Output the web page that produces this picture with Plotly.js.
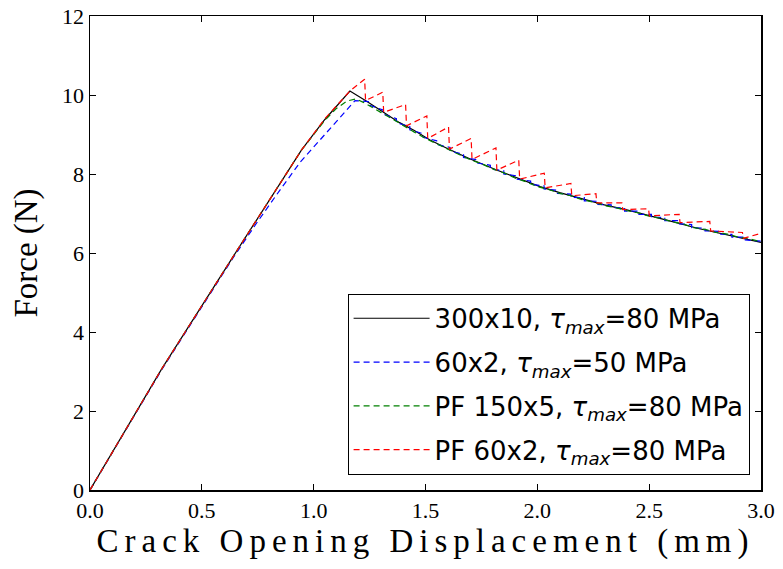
<!DOCTYPE html>
<html>
<head>
<meta charset="utf-8">
<script src="https://cdn.plot.ly/plotly-3.0.1.min.js"></script>
<style>
  html, body { margin: 0; padding: 0; background: #fff; }
  #chart { width: 783px; height: 569px; }
</style>
</head>
<body>
<div id="chart"></div>
<script>
// ---- Data ----
const seriesNames = [
  "300x10, <i>τ</i><sub><i>max</i></sub>=80 MPa",
  "60x2, <i>τ</i><sub><i>max</i></sub>=50 MPa",
  "PF 150x5, <i>τ</i><sub><i>max</i></sub>=80 MPa",
  "PF 60x2, <i>τ</i><sub><i>max</i></sub>=80 MPa"
];

const blackX = [0, 0.32, 0.64, 0.946, 1.05, 1.162, 1.235, 1.30, 1.384, 1.45, 1.52, 1.60, 1.70, 1.818, 1.90, 2.012, 2.10, 2.20, 2.30, 2.40, 2.50, 2.60, 2.72, 2.85, 3.0];
const blackY = [0, 3.06, 5.91, 8.61, 9.38, 10.10, 9.85, 9.60, 9.30, 9.10, 8.86, 8.64, 8.38, 8.10, 7.92, 7.68, 7.53, 7.37, 7.22, 7.09, 6.95, 6.80, 6.62, 6.45, 6.27];

const blueX = [0, 0.32, 0.64, 0.75, 0.85, 0.94, 1.05, 1.12, 1.185, 1.25, 1.25, 1.31, 1.31, 1.37, 1.37, 1.43, 1.43, 1.49, 1.49, 1.55, 1.55, 1.61, 1.61, 1.67, 1.67, 1.73, 1.73, 1.79, 1.79, 1.85, 1.85, 1.91, 1.91, 1.97, 1.97, 2.03, 2.03, 2.09, 2.09, 2.15, 2.15, 2.21, 2.21, 2.27, 2.27, 2.33, 2.33, 2.39, 2.39, 2.45, 2.45, 2.51, 2.51, 2.57, 2.57, 2.63, 2.63, 2.69, 2.69, 2.75, 2.75, 2.81, 2.81, 2.87, 2.87, 2.93, 2.93, 3.0];
const blueY = [0, 3.04, 5.88, 6.80, 7.60, 8.30, 9.00, 9.45, 9.86, 9.83, 9.74, 9.62, 9.52, 9.40, 9.30, 9.20, 9.12, 9.02, 8.93, 8.84, 8.75, 8.67, 8.58, 8.50, 8.42, 8.36, 8.28, 8.22, 8.13, 8.08, 8.00, 7.95, 7.87, 7.82, 7.74, 7.70, 7.62, 7.59, 7.51, 7.49, 7.41, 7.40, 7.32, 7.31, 7.23, 7.22, 7.15, 7.14, 7.06, 7.06, 6.98, 6.98, 6.90, 6.90, 6.82, 6.82, 6.74, 6.72, 6.64, 6.63, 6.56, 6.55, 6.48, 6.47, 6.40, 6.40, 6.33, 6.30];

const greenX = [0, 0.32, 0.64, 0.946, 1.05, 1.10, 1.15, 1.19, 1.22, 1.26, 1.30, 1.35, 1.40, 1.45, 1.50, 1.55, 1.60, 1.65, 1.70, 1.75, 1.80, 1.85, 1.90, 1.95, 2.00, 2.05, 2.10, 2.15, 2.20, 2.25, 2.30, 2.35, 2.40, 2.45, 2.50, 2.55, 2.60, 2.65, 2.70, 2.75, 2.80, 2.85, 2.90, 2.95, 3.0];
const greenY = [0, 3.06, 5.91, 8.61, 9.36, 9.65, 9.85, 9.90, 9.82, 9.70, 9.56, 9.40, 9.22, 9.06, 8.90, 8.77, 8.62, 8.50, 8.36, 8.26, 8.13, 8.03, 7.90, 7.80, 7.68, 7.61, 7.51, 7.45, 7.35, 7.29, 7.20, 7.15, 7.07, 7.02, 6.93, 6.88, 6.79, 6.74, 6.64, 6.60, 6.52, 6.48, 6.40, 6.36, 6.28];

const redX = [0, 0.32, 0.64, 0.946, 1.05, 1.162, 1.228, 1.232, 1.309, 1.313, 1.411, 1.415, 1.506, 1.510, 1.603, 1.607, 1.704, 1.708, 1.815, 1.819, 1.917, 1.921, 2.031, 2.035, 2.150, 2.154, 2.262, 2.266, 2.378, 2.382, 2.497, 2.501, 2.634, 2.638, 2.771, 2.775, 2.917, 2.921, 3.0];
const redY = [0, 3.06, 5.91, 8.61, 9.40, 10.10, 10.40, 9.86, 10.07, 9.56, 9.76, 9.22, 9.47, 8.90, 9.19, 8.63, 8.90, 8.37, 8.66, 8.10, 8.35, 7.87, 8.02, 7.65, 7.76, 7.45, 7.50, 7.27, 7.27, 7.10, 7.12, 6.94, 6.98, 6.77, 6.80, 6.56, 6.52, 6.37, 6.50];

const xTicks = [0, 0.5, 1.0, 1.5, 2.0, 2.5, 3.0];
const yTicks = [0, 2, 4, 6, 8, 10, 12];

// ---- Traces ----
const traces = [
  {x: blackX, y: blackY, name: seriesNames[0], mode: 'lines', legendgroup: 'a',
   line: {color: '#000000', width: 1.2, dash: 'solid'}},
  {x: blueX, y: blueY, name: seriesNames[1], mode: 'lines', legendgroup: 'b',
   line: {color: '#0000ff', width: 1.2, dash: '6px,4px'}},
  {x: greenX, y: greenY, name: seriesNames[2], mode: 'lines', legendgroup: 'c',
   line: {color: '#008000', width: 1.2, dash: '6px,4px'}},
  {x: redX, y: redY, name: seriesNames[3], mode: 'lines', legendgroup: 'd',
   line: {color: '#ff0000', width: 1.2, dash: '6px,4px'}}
];

const serif = "Liberation Serif";

const layout = {
  width: 783, height: 569,
  paper_bgcolor: '#ffffff', plot_bgcolor: '#ffffff',
  margin: {l: 90, r: 22, t: 16, b: 79, pad: 0},
  showlegend: true,
  legend: {
    x: 0.983, y: 0.032, xanchor: 'right', yanchor: 'bottom',
    bgcolor: '#ffffff', bordercolor: '#000000', borderwidth: 1,
    font: {family: "DejaVu Sans", size: 26, color: '#000'},
    tracegroupgap: 7, itemwidth: 76
  },
  xaxis: {
    range: [0, 3], tickvals: xTicks, ticktext: xTicks.map(v => v.toFixed(1)),
    ticks: 'inside', ticklen: 6, tickcolor: '#000', tickwidth: 1,
    showline: true, mirror: 'ticks', linecolor: '#000', linewidth: 1.5,
    showgrid: false, zeroline: false,
    tickfont: {family: serif, size: 22, color: '#000'},
    title: {text: '<span style="letter-spacing:6px">Crack Opening Displacement (mm)</span>',
            font: {family: serif, size: 33, color: '#000'}, standoff: 6}
  },
  yaxis: {
    range: [0, 12], tickvals: yTicks, ticktext: yTicks.map(v => String(v)),
    ticks: 'inside', ticklen: 6, tickcolor: '#000', tickwidth: 1,
    showline: true, mirror: 'ticks', linecolor: '#000', linewidth: 1.5,
    showgrid: false, zeroline: false,
    tickfont: {family: serif, size: 22, color: '#000'},
    title: {text: 'Force (N)', font: {family: serif, size: 33, color: '#000'}, standoff: 14}
  }
};

Plotly.newPlot('chart', traces, layout, {displayModeBar: false, staticPlot: true});
</script>
</body>
</html>
